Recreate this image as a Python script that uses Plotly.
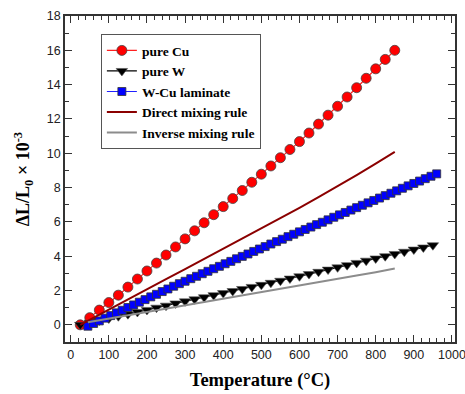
import plotly.graph_objects as go

# ---- data ----
cu_T = [25, 50, 75, 100, 125, 150, 175, 200, 225, 250, 275, 300, 325, 350, 375, 400, 425,
        450, 475, 500, 525, 550, 575, 600, 625, 650, 675, 700, 725, 750, 775, 800, 825, 850]
cu_dL = [0.0, 0.42, 0.86, 1.30, 1.73, 2.20, 2.67, 3.14, 3.60, 4.07, 4.54, 5.01, 5.48, 5.95,
         6.42, 6.89, 7.36, 7.83, 8.31, 8.78, 9.26, 9.74, 10.22, 10.68, 11.18, 11.70, 12.22,
         12.74, 13.28, 13.82, 14.37, 14.92, 15.47, 16.00]

w_T = [25, 50, 75, 100, 125, 150, 175, 200, 225, 250, 275, 300, 325, 350, 375, 400, 425, 450,
       475, 500, 525, 550, 575, 600, 625, 650, 675, 700, 725, 750, 775, 800, 825, 850, 875,
       900, 925, 950]
w_dL = [0.0, 0.12, 0.25, 0.37, 0.50, 0.62, 0.75, 0.87, 1.00, 1.12, 1.25, 1.37, 1.49, 1.61,
        1.73, 1.85, 1.97, 2.09, 2.21, 2.33, 2.45, 2.57, 2.70, 2.83, 2.96, 3.09, 3.22, 3.35,
        3.48, 3.61, 3.74, 3.87, 4.00, 4.13, 4.26, 4.39, 4.51, 4.64]

lam_T = [45, 60, 75, 90, 105, 120, 135, 150, 165, 180, 195, 210, 225, 240, 255, 270, 285, 300,
         315, 330, 345, 360, 375, 390, 405, 420, 435, 450, 465, 480, 495, 510, 525, 540, 555,
         570, 585, 600, 615, 630, 645, 660, 675, 690, 705, 720, 735, 750, 765, 780, 795, 810,
         825, 840, 855, 870, 885, 900, 915, 930, 945, 960]
lam_dL = [-0.08, 0.08, 0.23, 0.39, 0.54, 0.70, 0.85, 1.01, 1.16, 1.32, 1.47, 1.63, 1.78, 1.94,
          2.09, 2.25, 2.40, 2.54, 2.69, 2.83, 2.98, 3.12, 3.27, 3.41, 3.56, 3.70, 3.85, 3.99,
          4.13, 4.28, 4.42, 4.56, 4.71, 4.85, 4.99, 5.14, 5.28, 5.42, 5.56, 5.70, 5.84, 5.98,
          6.12, 6.27, 6.41, 6.55, 6.69, 6.83, 6.97, 7.11, 7.25, 7.39, 7.53, 7.67, 7.81, 7.96,
          8.10, 8.24, 8.38, 8.52, 8.66, 8.80]

direct_T = [25, 50, 100, 150, 200, 250, 300, 350, 400, 450, 500, 550, 600, 650, 700, 750, 800, 850]
direct_dL = [0.0, 0.30, 0.89, 1.48, 2.07, 2.66, 3.25, 3.84, 4.43, 5.02, 5.61, 6.21, 6.82, 7.44,
             8.07, 8.72, 9.39, 10.08]

inverse_T = [45, 100, 150, 200, 250, 300, 350, 400, 450, 500, 550, 600, 650, 700, 750, 800, 850]
inverse_dL = [0.15, 0.36, 0.55, 0.74, 0.93, 1.12, 1.31, 1.50, 1.69, 1.88, 2.07, 2.27, 2.47,
              2.67, 2.87, 3.07, 3.28]

x_ticks = [0, 100, 200, 300, 400, 500, 600, 700, 800, 900, 1000]
y_ticks = [0, 2, 4, 6, 8, 10, 12, 14, 16, 18]

# ---- figure ----
fig = go.Figure()
fig.add_trace(go.Scatter(
    x=cu_T, y=cu_dL, mode="lines+markers", name="pure Cu",
    line=dict(color="#ff2020", width=1.2),
    marker=dict(symbol="circle", size=10, color="#ff0000", line=dict(color="#444444", width=0.8))))
fig.add_trace(go.Scatter(
    x=w_T, y=w_dL, mode="lines+markers", name="pure W",
    line=dict(color="#000000", width=1.2),
    marker=dict(symbol="triangle-down", size=10, color="#000000", line=dict(color="#555555", width=0.6))))
fig.add_trace(go.Scatter(
    x=lam_T, y=lam_dL, mode="lines+markers", name="W-Cu laminate",
    line=dict(color="#2020ff", width=1.2),
    marker=dict(symbol="square", size=8, color="#0000ff", line=dict(color="#333333", width=0.8))))
fig.add_trace(go.Scatter(
    x=direct_T, y=direct_dL, mode="lines", name="Direct mixing rule",
    line=dict(color="#8b0000", width=2)))
fig.add_trace(go.Scatter(
    x=inverse_T, y=inverse_dL, mode="lines", name="Inverse mixing rule",
    line=dict(color="#8c8c8c", width=2)))

axis_common = dict(
    showline=True, linecolor="#333333", linewidth=1.6, mirror="allticks",
    ticks="inside", ticklen=7, tickwidth=1.2, tickcolor="#333333",
    showgrid=False, zeroline=False, automargin=False, ticklabeloverflow="allow",
    tickfont=dict(family="Liberation Sans, Arial, sans-serif", size=12.5, color="#222222"),
)

fig.update_xaxes(
    range=[-15, 1008], tickvals=x_ticks, ticktext=[str(v) for v in x_ticks],
    minor=dict(ticks="inside", ticklen=4, dtick=20, tick0=0, tickcolor="#333333", tickwidth=1),
    title=dict(text="Temperature (°C)", standoff=12,
               font=dict(family="Liberation Serif, Times New Roman, serif", size=18.5,
                         color="#000000", weight="bold")),
    **axis_common)
fig.update_yaxes(
    range=[-1, 18], tickvals=y_ticks, ticktext=[str(v) for v in y_ticks],
    minor=dict(ticks="inside", ticklen=4, dtick=1, tick0=0, tickcolor="#333333", tickwidth=1),
    title=dict(text="ΔL/L<sub>0</sub> × 10<sup>-3</sup>", standoff=12,
               font=dict(family="Liberation Serif, Times New Roman, serif", size=18,
                         color="#000000", weight="bold")),
    **axis_common)

fig.update_layout(
    width=465, height=394,
    margin=dict(l=65, r=10, t=16, b=52),
    paper_bgcolor="white", plot_bgcolor="white",
    showlegend=True,
    legend=dict(
        x=0.092, y=0.768, xanchor="left", yanchor="middle",
        bgcolor="white", bordercolor="#555555", borderwidth=1,
        font=dict(family="Liberation Serif, Times New Roman, serif", size=13.5,
                  color="#000000", weight="bold"),
        itemwidth=30, tracegroupgap=0,
    ),
)

# remove the browser's default 8px page margin so the figure fills the window exactly
fig.write_html(
    "out.html",
    config={"displayModeBar": False},
    post_script="document.body.style.margin='0';document.body.style.overflow='hidden';"
                "var s=document.querySelectorAll('svg.main-svg');"
                "for(var i=0;i<s.length;i++){s[i].style.overflow='visible';}",
)
